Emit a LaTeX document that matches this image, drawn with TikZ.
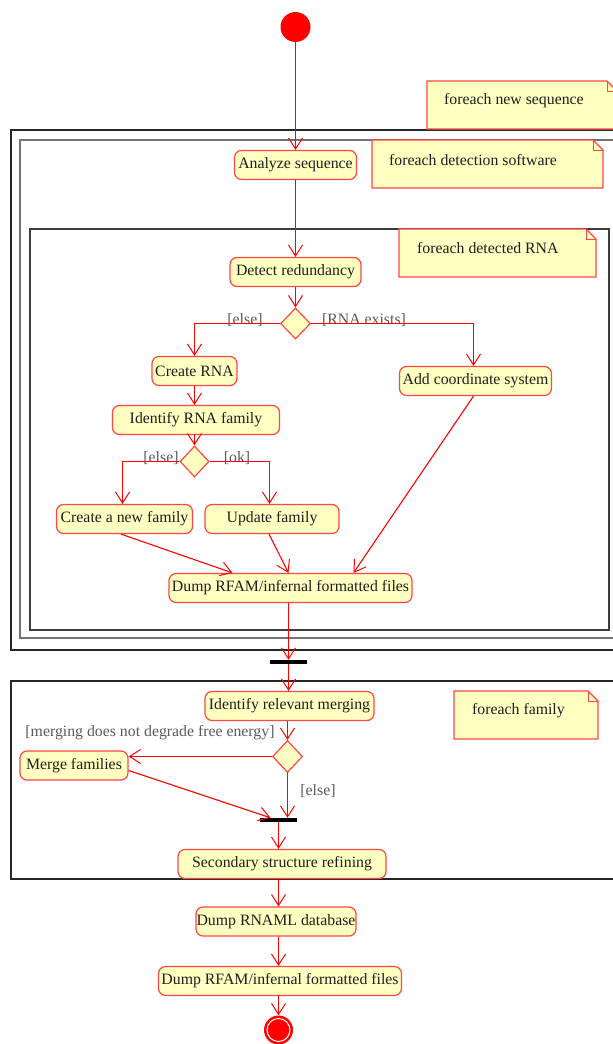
\documentclass[tikz,border=0pt]{standalone}
\usepackage{fontspec}
\setmainfont{Liberation Serif}
\usetikzlibrary{arrows.meta,shapes.geometric}
\definecolor{nodefill}{RGB}{255,255,194}
\definecolor{lred}{RGB}{255,70,70}
\definecolor{guardc}{RGB}{90,90,90}
\definecolor{txtc}{RGB}{30,30,30}
\definecolor{framec}{RGB}{60,60,60}
\definecolor{arrc}{RGB}{255,0,0}
\tikzset{
  act/.style={draw=lred, fill=nodefill, rounded corners=7pt, line width=1.2pt,
    minimum height=29pt, inner sep=0pt, text=txtc, font=\fontsize{15.8}{18}\selectfont},
  arr/.style={color=arrc, draw=arrc, line width=1.1pt, -{Straight Barb[length=11pt,width=14pt,line width=1pt]}},
  guardlbl/.style={text=guardc, inner sep=0pt, font=\fontsize{15.8}{18}\selectfont},
  notetxt/.style={text=txtc, inner sep=0pt, anchor=west, font=\fontsize{15.8}{18}\selectfont},
  notebox/.style={draw=lred, fill=nodefill, line width=1.2pt},
  frm/.style={draw=framec, line width=1.3pt},
  dec/.style={diamond, draw=lred, fill=nodefill, line width=1.2pt, minimum width=30pt,
    minimum height=31pt, inner sep=0pt},
  bar/.style={rectangle, fill=black, minimum width=37pt, minimum height=4pt, inner sep=0pt},
}
\newcommand{\umlnote}[4]{% x1 y1 x2 y2
  \path[notebox] (#1,#2) -- (#3-10,#2) -- (#3,#2+10) -- (#3,#4) -- (#1,#4) -- cycle;
  \draw[draw=lred, line width=1pt] (#3-10,#2) -- (#3-10,#2+10) -- (#3,#2+10);
}
\begin{document}
\begin{tikzpicture}[x=1pt,y=-1pt]
\useasboundingbox (0,0) rectangle (613,1044);
\clip (0,0) rectangle (613,1044);
\fill[white] (0,0) rectangle (613,1044);

% frames
\draw[frm, draw=black!85] (11,130) rectangle (640,650);
\draw[frm, draw=black!55] (20,140) rectangle (640,638);
\draw[frm] (30,229) rectangle (609,630);
\draw[frm, draw=black!85] (11,681) rectangle (640,879);

% notes
\umlnote{427}{81}{617}{129}
\node[notetxt] (n1) at (444,101) {foreach new sequence};
\umlnote{372}{140}{603}{188}
\node[notetxt] (n2) at (389,160) {foreach detection software};
\umlnote{399}{229}{596}{277}
\node[notetxt] (n3) at (417,248) {foreach detected RNA};
\umlnote{454}{691}{598}{739}
\node[notetxt] (n4) at (472,711) {foreach family};

% nodes
\node[circle, fill=red, minimum size=30pt, inner sep=0pt] (start) at (295.5,27) {};
\node[act, minimum width=122pt] (analyze) at (295.5,165) {Analyze sequence};
\node[act, minimum width=131pt] (detect) at (295.5,272) {Detect redundancy};
\node[dec] (d1) at (295.5,323.5) {};
\node[act, minimum width=85pt] (create) at (194.5,371) {Create RNA};
\node[act, minimum width=152pt] (addc) at (475.5,381) {Add coordinate system};
\node[act, minimum width=167pt] (ident) at (196,420) {Identify RNA family};
\node[dec, minimum width=29pt] (d2) at (194.5,461.5) {};
\node[act, minimum width=136pt] (cnf) at (124.5,519) {Create a new family};
\node[act, minimum width=134pt] (upd) at (272,519) {Update family};
\node[act, minimum width=243pt] (dump1) at (290.5,588) {Dump RFAM/infernal formatted files};
\node[bar] (fork1) at (288.5,662) {};
\node[act, minimum width=169pt] (imerge) at (289.5,706) {Identify relevant merging};
\node[dec, minimum height=32pt] (d3) at (287.5,756.5) {};
\node[act, minimum width=108pt] (merge) at (74,765.5) {Merge families};
\node[bar] (fork2) at (278.5,820) {};
\node[act, minimum width=208pt] (sec) at (282,864) {Secondary structure refining};
\node[act, minimum width=160pt] (rnaml) at (276,921.5) {Dump RNAML database};
\node[act, minimum width=243pt] (dumpf) at (280,981) {Dump RFAM/infernal formatted files};
\node[circle, fill=red, minimum size=29pt, inner sep=0pt] (end) at (278.5,1030) {};
\draw[white, line width=1pt] (end) circle (11.5pt);

% guards
\node[guardlbl] (g1) at (245,320) {[else]};
\node[guardlbl] (g2) at (364,320) {[RNA exists]};
\node[guardlbl] (g3) at (161,458) {[else]};
\node[guardlbl] (g4) at (237,458) {[ok]};
\node[guardlbl] (g5) at (150,733) {[merging does not degrade free energy]};
\node[guardlbl] (g6) at (318,791) {[else]};

% connectors
\draw[arr] (start) -- (analyze);
\draw[arr] (analyze) -- (detect);
\draw[arr] (detect) -- (d1);
\draw[arr] (d1.west) -| (create.north);
\draw[arr] (d1.east) -| ([xshift=-2pt]addc.north);
\draw[arr] (create.south) -- (create.south |- ident.north);
\draw[arr] (ident.south -| d2) -- (d2.north);
\draw[arr] (d2.west) -| ([xshift=-2pt]cnf.north);
\draw[arr] (d2.east) -| ([xshift=-2.5pt]upd.north);
\draw[arr] ([xshift=-3.5pt]cnf.south) -- ([xshift=-58pt]dump1.north);
\draw[arr] ([xshift=-3pt]upd.south) -- ([xshift=-2pt]dump1.north);
\draw[arr] ([xshift=-2pt]addc.south) -- ([xshift=63pt]dump1.north);
\draw[arr] ([xshift=-2pt]dump1.south) -- (fork1.north);
\draw[arr] (fork1.south) -- (fork1.south |- imerge.north);
\draw[arr] (imerge.south -| d3) -- (d3.north);
\draw[arr] (d3.west) -- (d3.west -| merge.east);
\draw[arr] ([yshift=-5pt]merge.east) -- ([xshift=-8pt]fork2.north);
\draw[arr] (d3.south) -- (d3.south |- fork2.north);
\draw[arr] (fork2.south) -- (fork2.south |- sec.north);
\draw[arr] (fork2.south |- sec.south) -- (fork2.south |- rnaml.north);
\draw[arr] (fork2.south |- rnaml.south) -- (fork2.south |- dumpf.north);
\draw[arr] (fork2.south |- dumpf.south) -- (end.north);
\end{tikzpicture}
\end{document}
